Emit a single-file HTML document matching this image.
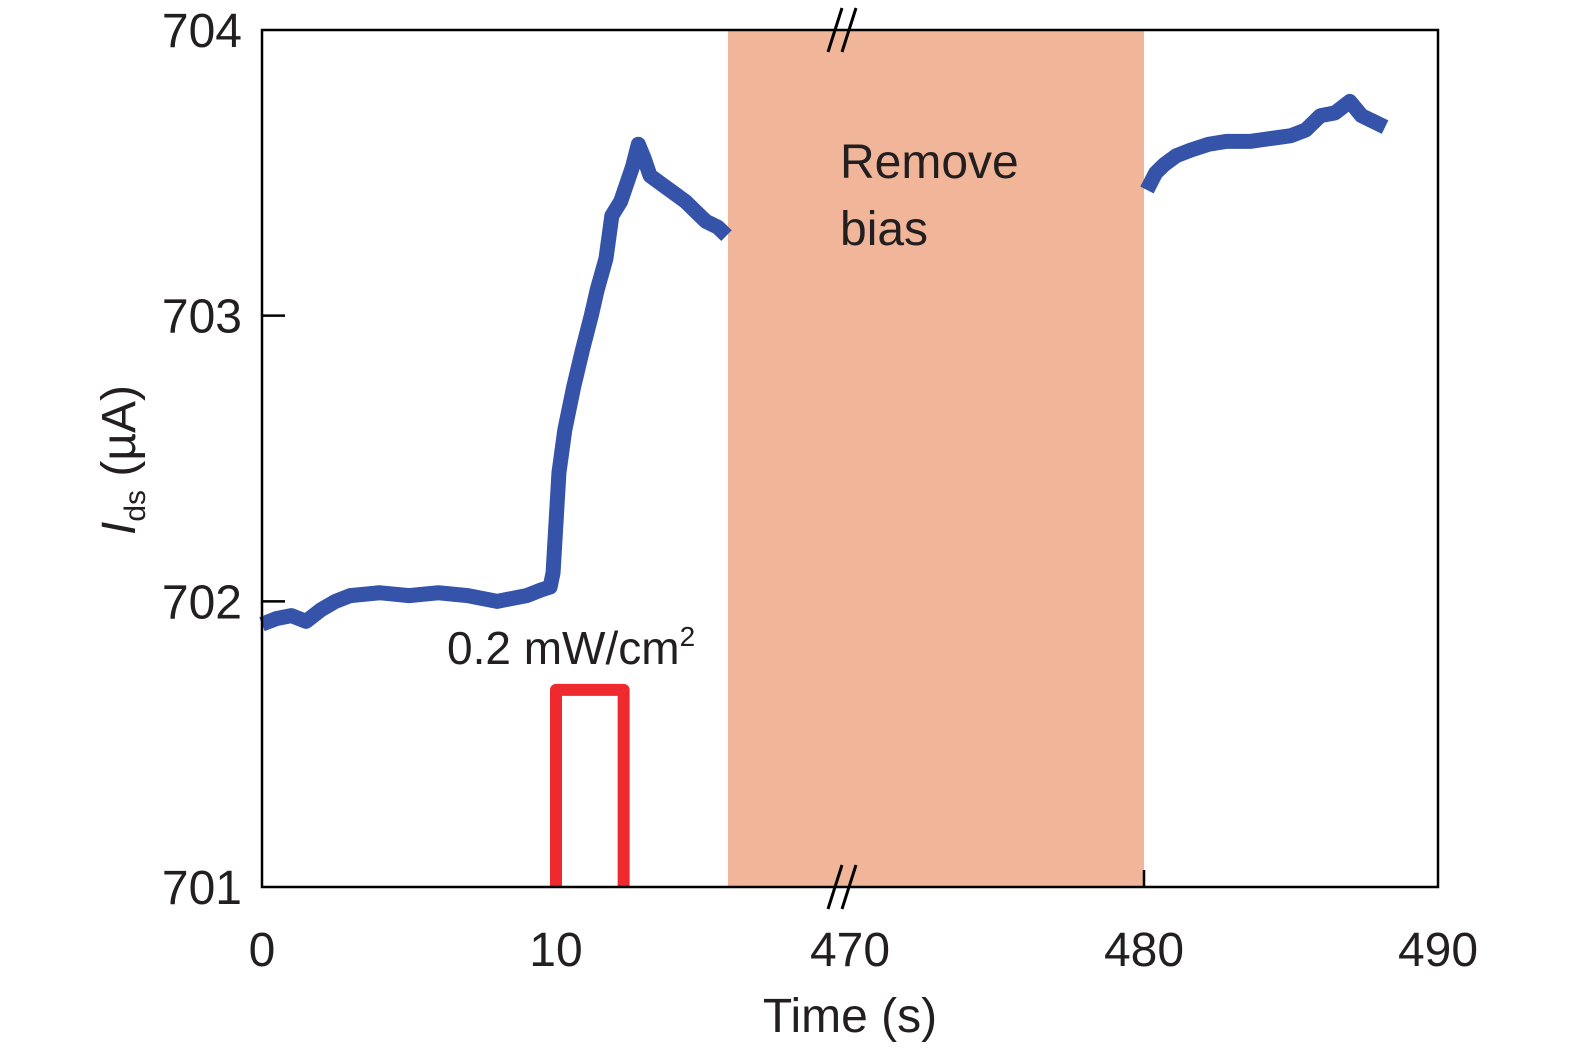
<!DOCTYPE html>
<html><head><meta charset="utf-8"><style>
html,body{margin:0;padding:0;background:#fff}
svg text{font-family:"Liberation Sans",sans-serif;fill:#231f20}
</style></head><body>
<svg width="1575" height="1053" viewBox="0 0 1575 1053">
<g id="shade"></g>
<g id="series"></g>
<rect x="262" y="30" width="1176" height="857" fill="none" stroke="#000" stroke-width="2.5"/>
<g id="axes"></g>
<text x="850" y="1032" font-size="48" text-anchor="middle">Time (s)</text>
<text transform="translate(135,460) rotate(-90)" font-size="48" text-anchor="middle"><tspan font-style="italic">I</tspan><tspan font-size="30" dy="10">ds</tspan><tspan dy="-10"> (µA)</tspan></text>
<text x="840" y="178" font-size="48">Remove</text>
<text x="840" y="245" font-size="48">bias</text>
<text x="447" y="664" font-size="46">0.2 mW/cm<tspan font-size="28" dy="-18">2</tspan></text>
</svg>
<script>
const xTicks=[0,10,470,480,490];
const yTicks=[701,702,703,704];
const t1=[0,0.5,1,1.5,2,2.5,3,4,5,6,7,8,9,9.5,9.8,9.9,10.1,10.3,10.6,10.9,11.2,11.4,11.7,11.9,12.2,12.4,12.6,12.8,13.0,13.2,13.6,14.0,14.4,14.8,15.1,15.5,15.8];
const v1=[701.92,701.94,701.95,701.93,701.97,702.0,702.02,702.03,702.02,702.03,702.02,702.0,702.02,702.04,702.05,702.1,702.45,702.6,702.75,702.88,703.0,703.09,703.2,703.35,703.4,703.46,703.52,703.6,703.55,703.49,703.46,703.43,703.40,703.36,703.33,703.31,703.28];
const t2=[480.1,480.4,480.7,481.1,481.6,482.2,482.8,483.6,484.3,485,485.5,486,486.5,487,487.4,487.8,488.2];
const v2=[703.44,703.5,703.53,703.56,703.58,703.6,703.61,703.61,703.62,703.63,703.65,703.70,703.71,703.75,703.70,703.68,703.66];
const pulseT=[10,10,12.3,12.3];
const pulseV=[701,701.69,701.69,701];
const shadeT=[15.85,480];
const NS="http://www.w3.org/2000/svg";
function u(t){return t>100?t-450:t;}
function X(t){return 262+u(t)*29.4;}
function Y(v){return 887-(v-701)*285.67;}
function mk(tag,attrs,parent){const e=document.createElementNS(NS,tag);for(const k in attrs)e.setAttribute(k,attrs[k]);document.getElementById(parent).appendChild(e);return e;}
const sh=mk('rect',{x:X(shadeT[0]),y:Y(704),width:X(shadeT[1])-X(shadeT[0]),height:Y(701)-Y(704),fill:'#f1b69a'},'shade');


function line(ts,vs,color,w,name){const p=mk('polyline',{points:ts.map((t,i)=>X(t)+','+Y(vs[i])).join(' '),fill:'none',stroke:color,'stroke-width':w,'stroke-linejoin':'round'},'series');

}
line(t1,v1,'#3553a8',15,'current-trace-before');
line(t2,v2,'#3553a8',15,'current-trace-after');
line(pulseT,pulseV,'#ee2a2e',12,'light-pulse');
xTicks.forEach(t=>{const e=mk('text',{x:X(t),y:966,'font-size':48,'text-anchor':'middle'},'axes');e.textContent=t;

});
yTicks.forEach(v=>{const e=mk('text',{x:242,y:Y(v)+17,'font-size':48,'text-anchor':'end'},'axes');e.textContent=v;


if(v>701&&v<704){const l=mk('line',{x1:262,x2:285,y1:Y(v),y2:Y(v),stroke:'#000','stroke-width':2.5},'axes');

}});
const tk=mk('line',{x1:X(480),x2:X(480),y1:887,y2:870,stroke:'#000','stroke-width':2.5},'axes');


[30,887].forEach(y=>{[0,14].forEach(dx=>{const b=mk('line',{x1:828+dx,y1:y+22,x2:842+dx,y2:y-22,stroke:'#000','stroke-width':3},'axes');

});});
</script>
</body></html>
